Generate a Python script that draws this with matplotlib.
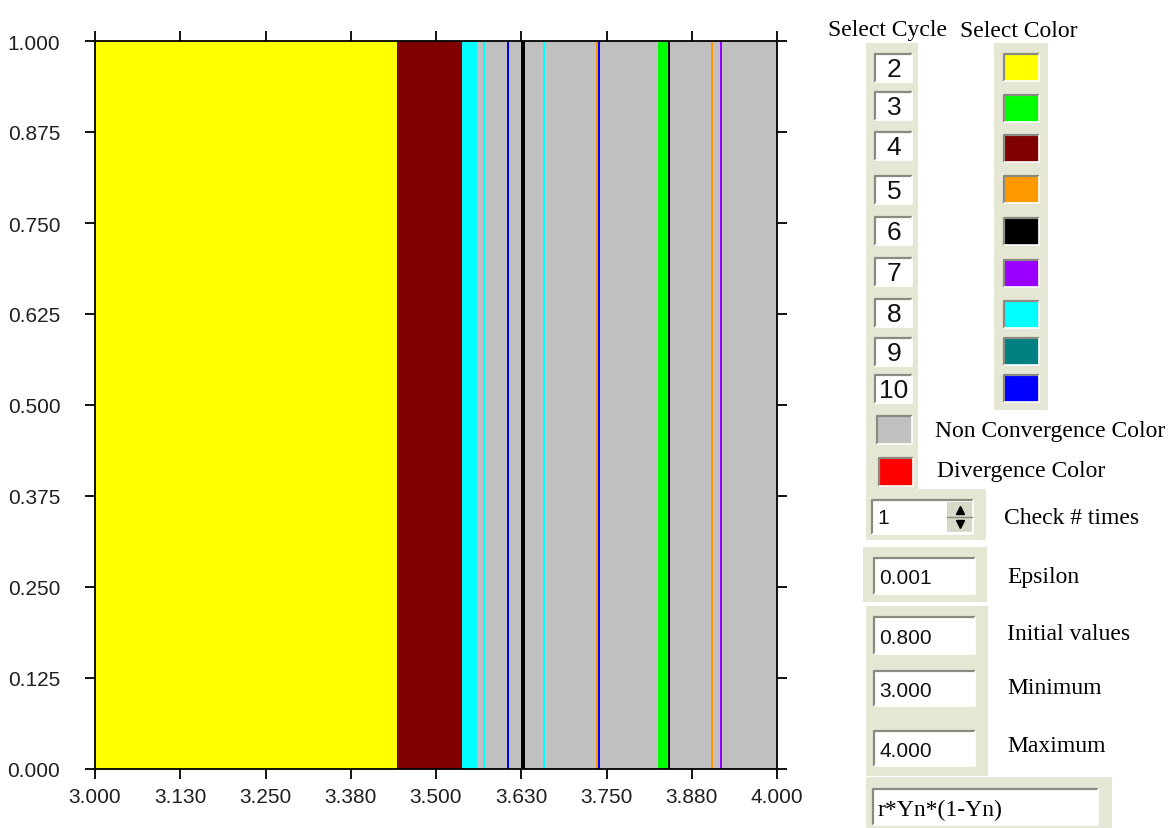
import matplotlib
matplotlib.use("Agg")
import matplotlib.pyplot as plt
from matplotlib.patches import Rectangle

# ---------------- data ----------------
cycles = [2, 3, 4, 5, 6, 7, 8, 9, 10]
cycle_colors = ['#FFFF00', '#00FF00', '#800000', '#FF9900', '#000000',
                '#9900FF', '#00FFFF', '#008080', '#0000FF']
nonconv_color = '#C0C0C0'
div_color = '#FF0000'

r_min, r_max = 3.0, 4.0
band_start = [3.000, 3.4428, 3.5386, 3.5694, 3.6040, 3.6242, 3.6575,
              3.7350, 3.7380, 3.8251, 3.8405, 3.9028, 3.9160]
band_end = [3.4428, 3.5386, 3.5604, 3.5725, 3.6070, 3.6305, 3.6605,
            3.7380, 3.7412, 3.8405, 3.8435, 3.9058, 3.9190]
band_cycle = [2, 4, 8, 8, 10, 6, 8, 5, 10, 3, 6, 5, 7]

x_ticks = [3.0, 3.125, 3.25, 3.375, 3.5, 3.625, 3.75, 3.875, 4.0]
x_ticklabels = ['3.000', '3.130', '3.250', '3.380', '3.500', '3.630',
                '3.750', '3.880', '4.000']
y_ticks = [0.0, 0.125, 0.25, 0.375, 0.5, 0.625, 0.75, 0.875, 1.0]
y_ticklabels = ['0.000', '0.125', '0.250', '0.375', '0.500', '0.625',
                '0.750', '0.875', '1.000']

check_times = '1'
epsilon = '0.001'
initial_value = '0.800'
minimum = '3.000'
maximum = '4.000'
formula = 'r*Yn*(1-Yn)'

# ---------------- figure ----------------
W, H = 1176, 829
fig = plt.figure(figsize=(W / 100, H / 100), dpi=100)
fig.patch.set_facecolor('white')

ax = fig.add_axes([95 / W, (H - 770) / H, 682 / W, 728 / H])
ax.set_facecolor(nonconv_color)
color_of = dict(zip(cycles, cycle_colors))
for s, e, c in zip(band_start, band_end, band_cycle):
    ax.axvspan(s, e, color=color_of[c], lw=0, antialiased=False)
ax.set_xlim(r_min, r_max)
ax.set_ylim(0, 1)
ax.set_xticks(x_ticks)
ax.set_xticklabels(x_ticklabels)
ax.set_yticks(y_ticks)
ax.set_yticklabels(y_ticklabels)
for sp in ax.spines.values():
    sp.set_linewidth(1.3)
    sp.set_color('black')
ax.tick_params(axis='x', direction='out', length=7, width=1.3, pad=6,
               top=True, labelsize=15, colors='black')
ax.tick_params(axis='y', direction='out', length=7, width=1.3, pad=18,
               right=True, labelsize=15, colors='black')
for lab in ax.get_xticklabels() + ax.get_yticklabels():
    lab.set_family('Liberation Sans')
    lab.set_color('#202020')

# ---------------- control panel overlay (pixel coordinates) ----------------
ov = fig.add_axes([0, 0, 1, 1], facecolor='none')
ov.set_xlim(0, W)
ov.set_ylim(H, 0)
ov.axis('off')

beige = '#E6E6D4'
serif = 'Liberation Serif'
sans = 'Liberation Sans'


def rect(x0, y0, x1, y1, fc, ec='none', lw=0, z=1):
    ov.add_patch(Rectangle((x0, y0), x1 - x0, y1 - y0, facecolor=fc,
                           edgecolor=ec, linewidth=lw, zorder=z))


def sunken(x0, y0, x1, y1, fill='white'):
    rect(x0, y0, x1, y1, fill, z=2)
    ov.plot([x0, x0, x1], [y1, y0, y0], color='#8A8A80', lw=1.6, zorder=3,
            solid_capstyle='butt')
    ov.plot([x0, x1, x1], [y1, y1, y0], color='#FFFFFF', lw=1.2, zorder=3,
            solid_capstyle='butt')


# beige strips / blocks
rect(866, 44, 918, 490, beige)
rect(994, 44, 1048, 411, beige)
rect(866, 490, 986, 541, beige)
rect(863, 548, 987, 603, beige)
rect(866, 607, 988, 777, beige)
rect(866, 778, 1112, 829, beige)

ov.text(828, 30, 'Select Cycle', family=serif, fontsize=17, va='center',
        ha='left', color='black')
ov.text(960, 31, 'Select Color', family=serif, fontsize=17, va='center',
        ha='left', color='black')

cycle_y = [69, 107, 147, 191, 232, 273, 314, 353, 390]
swatch_y = [69, 110, 150, 191, 233, 275, 316, 353, 390]
for cyc, yc in zip(cycles, cycle_y):
    sunken(875, yc - 14, 912, yc + 14)
    ov.text(894, yc + 1, str(cyc), family=sans, fontsize=19, ha='center',
            va='center', color='#111111', zorder=4)
for col, yc in zip(cycle_colors, swatch_y):
    sunken(1004, yc - 14, 1039, yc + 13, fill=col)

sunken(877, 417, 912, 445, fill=nonconv_color)
sunken(879, 459, 913, 487, fill=div_color)
ov.text(935, 431, 'Non Convergence Color', family=serif, fontsize=17,
        va='center', ha='left', color='black')
ov.text(937, 472, 'Divergence Color', family=serif, fontsize=17,
        va='center', ha='left', color='black')

# spin box
sunken(872, 501, 973, 535)
rect(947, 503, 972, 533, '#D8D8C8', z=3)
ov.plot([947, 972], [518, 518], color='#8A8A80', lw=1, zorder=4)
ov.plot([960], [511], marker='^', color='black', ms=6, zorder=5)
ov.plot([960], [525], marker='v', color='black', ms=6, zorder=5)
ov.text(877, 518, check_times, family=sans, fontsize=15, va='center',
        ha='left', color='#111111', zorder=4)
ov.text(1004, 519, 'Check # times', family=serif, fontsize=17, va='center',
        ha='left', color='black')

fields = [(559, 595, epsilon, 577, 'Epsilon'),
          (618, 655, initial_value, 635, 'Initial values'),
          (672, 707, minimum, 688, 'Minimum'),
          (732, 767, maximum, 747, 'Maximum')]
for y0, y1, val, ly, lab in fields:
    sunken(874, y0, 975, y1)
    ov.text(879, (y0 + y1) / 2 + 2, val, family=sans, fontsize=15,
            va='center', ha='left', color='#111111', zorder=4)
    ov.text(1007, ly, lab, family=serif, fontsize=17, va='center',
            ha='left', color='black')

sunken(873, 790, 1098, 826)
ov.text(877, 810, formula, family=serif, fontsize=17, va='center',
        ha='left', color='black', zorder=4)

fig.savefig('out.png', dpi=100)
